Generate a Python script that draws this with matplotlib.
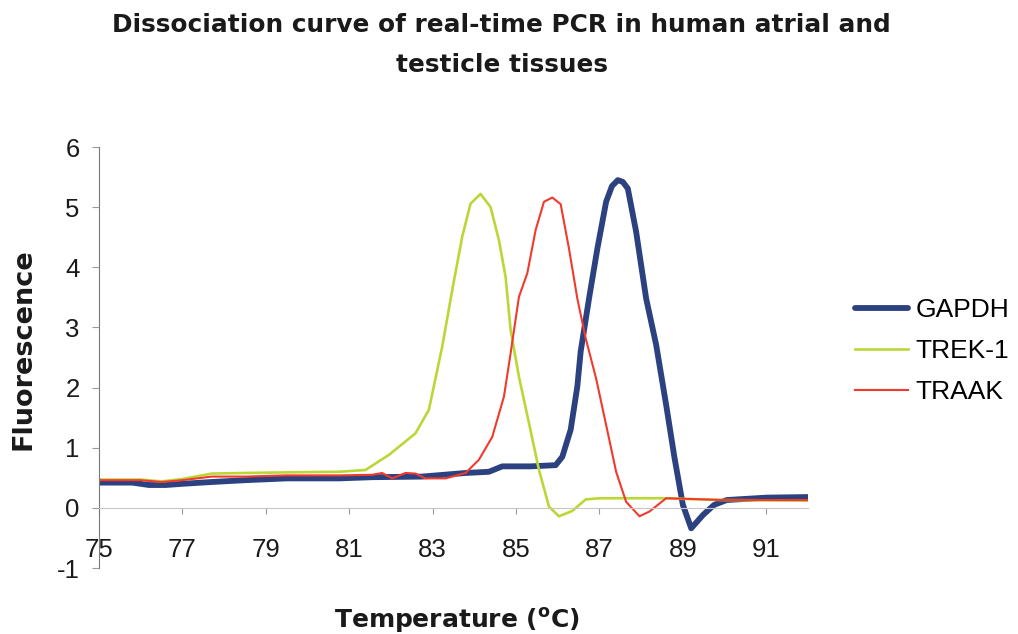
import matplotlib
matplotlib.use("Agg")
from matplotlib import pyplot as plt

# Melt curve data (temperature in degC, fluorescence)
gapdh_t = [75, 75.8, 76.2, 76.6, 77.0, 77.7, 78.5, 79.5, 80.75, 81.55, 82.75, 83.79,
           84.35, 84.67, 85.35, 85.95, 86.11, 86.31, 86.47, 86.55, 86.75, 86.95, 87.16,
           87.3, 87.44, 87.56, 87.68, 87.88, 88.12, 88.36, 88.6, 88.8, 89.0, 89.2,
           89.48, 89.75, 90.05, 91.0, 92.0]
gapdh_f = [0.42, 0.42, 0.38, 0.38, 0.40, 0.43, 0.46, 0.49, 0.49, 0.51, 0.52, 0.58,
           0.60, 0.69, 0.69, 0.71, 0.85, 1.30, 2.02, 2.60, 3.48, 4.31, 5.09,
           5.35, 5.45, 5.42, 5.31, 4.59, 3.48, 2.71, 1.71, 0.83, 0.05, -0.34,
           -0.12, 0.05, 0.13, 0.17, 0.18]

trek1_t = [75, 76.0, 76.5, 77.0, 77.7, 78.5, 79.5, 80.75, 81.39, 81.95, 82.59, 82.91,
           83.23, 83.47, 83.71, 83.91, 84.15, 84.39, 84.59, 84.75, 84.87, 85.07, 85.31,
           85.55, 85.79, 86.03, 86.35, 86.67, 87.0, 88.5, 90, 92]
trek1_f = [0.47, 0.47, 0.44, 0.48, 0.57, 0.58, 0.59, 0.60, 0.63, 0.88, 1.24, 1.63,
           2.68, 3.62, 4.51, 5.06, 5.22, 5.0, 4.45, 3.84, 2.96, 2.18, 1.41,
           0.63, 0.02, -0.14, -0.05, 0.14, 0.16, 0.16, 0.13, 0.12]

traak_t = [75, 76.0, 76.5, 77.0, 77.7, 78.5, 79.5, 80.75, 81.55, 81.79, 82.03, 82.35,
           82.59, 82.83, 83.31, 83.79, 84.11, 84.43, 84.71, 84.87, 85.07, 85.27, 85.47,
           85.67, 85.87, 86.07, 86.27, 86.47, 86.67, 86.92, 87.16, 87.4, 87.64, 87.96,
           88.2, 88.6, 90, 92]
traak_f = [0.46, 0.46, 0.43, 0.46, 0.52, 0.52, 0.54, 0.54, 0.55, 0.58, 0.49, 0.58,
           0.57, 0.49, 0.49, 0.58, 0.80, 1.18, 1.85, 2.57, 3.51, 3.90, 4.62,
           5.09, 5.16, 5.05, 4.31, 3.48, 2.82, 2.15, 1.38, 0.60, 0.10, -0.14,
           -0.06, 0.16, 0.13, 0.13]

x_ticks = [75, 77, 79, 81, 83, 85, 87, 89, 91]
y_ticks = [-1, 0, 1, 2, 3, 4, 5, 6]

plt.rcParams.update({"font.family": "Liberation Sans", "mathtext.fontset": "dejavusans",
                     "axes.unicode_minus": False})

fig = plt.figure(figsize=(10.18, 6.34), dpi=100)
ax = fig.add_axes([0.0972, 0.1041, 0.6965, 0.664])

ax.plot(gapdh_t, gapdh_f, color='#2c4180', lw=4.2, solid_capstyle='round',
        solid_joinstyle='round', label='GAPDH')
ax.plot(trek1_t, trek1_f, color='#b9d838', lw=1.9, solid_joinstyle='round', label='TREK-1')
ax.plot(traak_t, traak_f, color='#f23a2c', lw=1.5, solid_joinstyle='round', label='TRAAK')

ax.set_xlim(75, 92)
ax.set_ylim(-1, 6)
ax.spines['top'].set_visible(False)
ax.spines['right'].set_visible(False)
ax.spines['bottom'].set_position(('data', 0))
ax.spines['left'].set_color('#7a7a7a')
ax.spines['bottom'].set_color('#c8c8c8')

ax.set_xticks(x_ticks)
ax.set_yticks(y_ticks)
ax.tick_params(axis='x', direction='out', length=4, color='#9a9a9a', pad=18,
               labelsize=18.5, labelcolor='#1a1a1a')
ax.tick_params(axis='y', direction='out', length=5, color='#9a9a9a', pad=9,
               labelsize=18.5, labelcolor='#1a1a1a')

fig.text(0.023, 0.45, 'Fluorescence', rotation=90, ha='center', va='center',
         fontsize=19.5, fontweight='bold', family='DejaVu Sans', color='#1a1a1a')
fig.text(0.449, 0.022, r'Temperature ($^{\mathbf{o}}$C)', ha='center', va='center',
         fontsize=18, fontweight='bold', family='DejaVu Sans', color='#1a1a1a')

fig.text(0.493, 0.961, 'Dissociation curve of real-time PCR in human atrial and',
         ha='center', va='center', fontsize=17.8, fontweight='bold', family='DejaVu Sans',
         color='#1a1a1a')
fig.text(0.493, 0.898, 'testicle tissues',
         ha='center', va='center', fontsize=17.8, fontweight='bold', family='DejaVu Sans',
         color='#1a1a1a')

ax.legend(loc='center left', bbox_to_anchor=(1.066, 0.515), frameon=False,
          fontsize=19, handlelength=2.0, handletextpad=0.3, labelspacing=0.65,
          borderpad=0, borderaxespad=0)

fig.savefig('out.png', dpi=100)
